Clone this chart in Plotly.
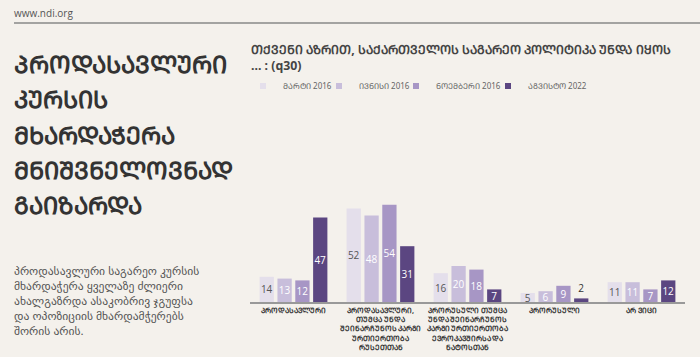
import plotly.graph_objects as go

def mt(s):
    # Georgian Mkhedruli -> Mtavruli (all-caps form)
    return ''.join(chr(ord(c) + 0xBC0) if 0x10D0 <= ord(c) <= 0x10FA else c for c in s)

categories = [
    "პროდასავლური",
    "პროდასავლური,<br>თუმცა უნდა<br>შეინარჩუნოს კარგი<br>ურთიერთობა<br>რუსეთთან",
    "პრორუსული თუმცა<br>უნდა შეინარჩუნოს<br>კარგი ურთიერთობა<br>ევროკავშირსა და<br>ნატოსთან",
    "პრორუსული",
    "არ ვიცი",
]
series_names = ["მარტი 2016", "ივნისი 2016", "ნოემბერი 2016", "აგვისტო 2022"]
values_mar2016 = [14, 52, 16, 5, 11]
values_jun2016 = [13, 48, 20, 6, 11]
values_nov2016 = [12, 54, 18, 9, 7]
values_aug2022 = [47, 31, 7, 2, 12]
all_values = [values_mar2016, values_jun2016, values_nov2016, values_aug2022]

colors = ["#e4dfeb", "#c8bedb", "#a796c5", "#5b4681"]
label_colors = ["#555555", "#ffffff", "#ffffff", "#ffffff"]
legend_widths = [31, 32, 47, 60]

chart_title = "თქვენი აზრით, საქართველოს საგარეო პოლიტიკა უნდა იყოს<br>... : (q30)"
big_title = ["პროდასავლური", "კურსის", "მხარდაჭერა", "მნიშვნელოვნად", "გაიზარდა"]
body_lines = [
    "პროდასავლური საგარეო კურსის",
    "მხარდაჭერა ყველაზე ძლიერი",
    "ახალგაზრდა ასაკობრივ ჯგუფსა",
    "და ოპოზიციის მხარდამჭერებს",
    "შორის არის.",
]

W, H = 700, 357
FONT = "Noto Sans, DejaVu Sans, sans-serif"

fig = go.Figure()
cat_ids = list(range(len(categories)))
for i, (name, vals) in enumerate(zip(series_names, all_values)):
    positions = ["inside" if v >= 4 else "outside" for v in vals]
    tcolors = [label_colors[i] if v >= 4 else "#333333" for v in vals]
    fig.add_trace(go.Bar(
        x=cat_ids, y=vals, name=mt(name),
        marker=dict(color=colors[i], line=dict(width=0)),
        text=[str(v) for v in vals], textposition=positions, textangle=0,
        insidetextanchor="middle", constraintext="none",
        textfont=dict(color=tcolors, size=10, family="Open Sans, sans-serif"),
        cliponaxis=False, showlegend=False, hoverinfo="skip",
    ))
    fig.add_trace(go.Scatter(
        x=[None], y=[None], mode="markers", name=mt(name),
        marker=dict(symbol="square", size=6, color=colors[i]),
        showlegend=True, legendwidth=legend_widths[i], hoverinfo="skip",
    ))

def px(x): return x / W
def py(y): return 1 - y / H

ann = []
def add(text, x, y, size, color, weight="normal", xanchor="left", yanchor="middle", family=FONT):
    ann.append(dict(text=text, x=px(x), y=py(y), xref="paper", yref="paper",
                    xanchor=xanchor, yanchor=yanchor, align="left",
                    font=dict(size=size, color=color, family=family, weight=weight),
                    showarrow=False))

add("www.ndi.org", 12, 13, 10, "#555555", family="Open Sans, sans-serif")
for k, line in enumerate(big_title):
    add(mt(line), 12, 63 + k * 35.5, 24, "#333333", weight="bold")
add("<br>".join(body_lines), 12, 261, 11.6, "#555555", yanchor="top")
add(mt(chart_title), 249, 39, 12.3, "#444444", weight="bold", yanchor="top")

fig.update_layout(
    width=W, height=H,
    margin=dict(l=0, r=0, t=0, b=0),
    paper_bgcolor="#f4f1ec", plot_bgcolor="#f4f1ec",
    barmode="group", bargap=0.18, bargroupgap=0.2,
    annotations=ann,
    shapes=[dict(type="line", xref="paper", yref="paper", x0=px(14), x1=1, y0=py(23), y1=py(23),
                 line=dict(color="#888888", width=1.5))],
    legend=dict(orientation="h", x=px(243), y=py(86), xanchor="left", yanchor="middle",
                font=dict(size=8, color="#666666", family=FONT), bgcolor="rgba(0,0,0,0)",
                itemclick=False),
    xaxis=dict(domain=[px(250), px(685)], tickmode="array", tickvals=cat_ids,
               ticktext=[mt(c) for c in categories], range=[-0.5, 4.5], tickangle=0,
               tickfont=dict(size=7.3, color="#333333", family=FONT, weight="bold"),
               showline=True, linecolor="#999999", linewidth=1.5, ticks="", showgrid=False,
               zeroline=False, automargin=False),
    yaxis=dict(domain=[py(302), py(194)], range=[0, 60], visible=False, showgrid=False,
               zeroline=False),
)
fig.write_html("out.html", config={"displayModeBar": False},
               post_script="document.body.style.margin='0';")
